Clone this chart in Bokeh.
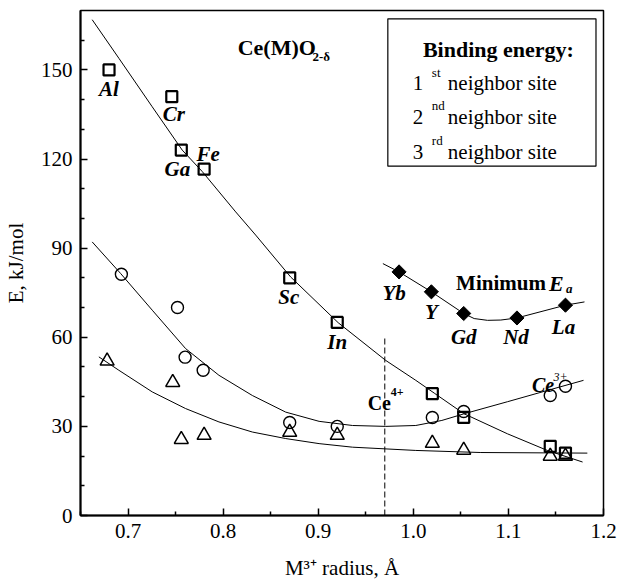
import math
from bokeh.plotting import figure
from bokeh.models import FixedTicker, Label, BoxAnnotation, Range1d, NumeralTickFormatter
from bokeh.embed import file_html
from bokeh.resources import INLINE

# ---------------- data ----------------
radius_1st = [0.68, 0.746, 0.756, 0.780, 0.870, 0.920, 1.020, 1.053, 1.144, 1.160]
energy_1st = [150, 141, 123, 116.6, 80, 65, 41, 33, 23.3, 21]
names_1st = ["Al", "Cr", "Ga", "Fe", "Sc", "In"]

radius_2nd = [0.693, 0.752, 0.760, 0.779, 0.870, 0.920, 1.020, 1.053, 1.144, 1.160]
energy_2nd = [81.2, 70, 53.3, 48.9, 31.3, 30, 33, 35, 40.4, 43.5]

radius_3rd = [0.678, 0.747, 0.756, 0.780, 0.870, 0.920, 1.020, 1.053, 1.144, 1.160]
energy_3rd = [52, 44.8, 25.6, 27, 28, 27, 24.3, 22, 20, 20]

radius_min = [0.985, 1.019, 1.053, 1.109, 1.160]
energy_min = [82.0, 75.3, 68.0, 66.5, 70.8]
names_min = ["Yb", "Y", "Gd", "Nd", "La"]

# trend curves
fit1_x = [0.6623, 0.6904, 0.7254, 0.757, 0.778, 0.8132, 0.8342, 0.871, 0.921, 0.971,
          1.0026, 1.022, 1.053, 1.099, 1.141, 1.178]
fit1_y = [166.9, 153.9, 137.6, 123.0, 115.8, 102.2, 94.4, 80.3, 64.9, 52.2,
          45.5, 41.2, 34.3, 27.5, 21.9, 18.0]
fit2_x = [0.6623, 0.6921, 0.7255, 0.7605, 0.7956, 0.8307, 0.8658, 0.9009, 0.936, 0.971,
          1.0026, 1.030, 1.053, 1.099, 1.141, 1.179]
fit2_y = [92.1, 81.5, 69.1, 56.2, 47.2, 40.4, 34.8, 31.7, 30.3, 30.0,
          30.3, 32.0, 34.2, 38.3, 42.1, 45.5]
fit3_x = [0.6693, 0.6903, 0.7255, 0.7605, 0.7956, 0.8307, 0.8658, 0.9009, 0.936, 1.0026,
          1.071, 1.183]
fit3_y = [53.4, 48.9, 41.6, 36.0, 31.5, 28.1, 25.9, 24.2, 23.0, 21.9,
          21.2, 21.0]
fit4_x = [0.968, 0.985, 1.019, 1.053, 1.064, 1.078, 1.092, 1.109, 1.160, 1.180]
fit4_y = [84.8, 82.0, 75.3, 68.0, 66.3, 65.7, 65.8, 66.5, 70.8, 71.9]

ce4_x = [0.97, 0.97]
ce4_y = [0, 60]

x_ticks = [0.7, 0.8, 0.9, 1.0, 1.1, 1.2]
x_minor = [0.65, 0.75, 0.85, 0.95, 1.05, 1.15]
y_ticks = [0, 30, 60, 90, 120, 150]
y_minor = [10, 20, 40, 50, 70, 80, 100, 110, 130, 140, 160]

x_title = "M³⁺ radius, Å"
y_title = "E, kJ/mol"

# ---------------- figure ----------------
X0, X1, Y0, Y1 = 0.65, 1.2, 0, 170
W, H = 618, 584
BL, BR, BT, BB = 80, 15, 10, 69
pxx = (W - BL - BR) / (X1 - X0)
pxy = (H - BT - BB) / (Y1 - Y0)

def dx(px):
    return px / pxx

def dy(px):
    return px / pxy

FONT = "Liberation Serif"

p = figure(width=W, height=H, x_range=Range1d(X0, X1), y_range=Range1d(Y0, Y1),
           output_backend="svg", toolbar_location=None,
           min_border_left=BL, min_border_right=BR, min_border_top=BT, min_border_bottom=BB)
p.xgrid.visible = False
p.ygrid.visible = False
p.outline_line_color = "black"
p.outline_line_width = 1.5
p.background_fill_color = "white"

for ax in (p.xaxis[0], p.yaxis[0]):
    ax.axis_line_width = 2
    ax.axis_line_color = "black"
    ax.major_tick_in = 7
    ax.major_tick_out = 0
    ax.minor_tick_in = 4
    ax.minor_tick_out = 0
    ax.major_tick_line_width = 1.5
    ax.minor_tick_line_width = 1.5
    ax.major_label_text_font = FONT
    ax.major_label_text_font_size = "21px"
    ax.major_label_text_color = "black"
    ax.major_label_standoff = 8
    ax.axis_label_text_font = FONT
    ax.axis_label_text_font_size = "21px"
    ax.axis_label_text_font_style = "normal"
    ax.axis_label_text_color = "black"

p.xaxis.ticker = FixedTicker(ticks=x_ticks, minor_ticks=x_minor)
p.yaxis.ticker = FixedTicker(ticks=y_ticks, minor_ticks=y_minor)
p.xaxis.formatter = NumeralTickFormatter(format="0.0")
p.xaxis.axis_label = x_title
p.yaxis.axis_label = y_title
p.xaxis.axis_label_standoff = 15
p.yaxis.axis_label_standoff = 10

# curves
for fx, fy in ((fit1_x, fit1_y), (fit2_x, fit2_y), (fit3_x, fit3_y), (fit4_x, fit4_y)):
    p.line(fx, fy, line_color="black", line_width=1)

p.line(ce4_x, ce4_y, line_color="black", line_width=1, line_dash="6 3")

# markers
p.scatter(radius_1st, energy_1st, marker="square", size=11, fill_alpha=0,
          line_color="black", line_width=2.2)
p.scatter(radius_2nd, energy_2nd, marker="circle", size=12, fill_alpha=0,
          line_color="black", line_width=1.4)
p.scatter(radius_3rd, energy_3rd, marker="triangle", size=14, fill_alpha=0,
          line_color="black", line_width=1.5)
p.scatter(radius_min, energy_min, marker="square", angle=math.pi / 4, size=10,
          fill_color="black", line_color="black")

def lab(x, y, text, size="21px", style="bold", align="left", baseline="alphabetic"):
    p.add_layout(Label(x=x, y=y, text=text, text_font=FONT, text_font_size=size,
                       text_font_style=style, text_align=align, text_baseline=baseline,
                       text_color="black"))

# element labels (pixel offsets right / down from marker)
off_1st = [(0, 19), (2, 17), (-4, 19), (4, -15), (-1, 19), (0, 20)]
for i, name in enumerate(names_1st):
    ox, oy = off_1st[i]
    lab(radius_1st[i] + dx(ox), energy_1st[i] - dy(oy), name,
        style="bold italic", align="center", baseline="middle")

off_min = [(-5, 21), (0, 20), (0, 23), (-1, 19), (-2, 22)]
for i, name in enumerate(names_min):
    ox, oy = off_min[i]
    lab(radius_min[i] + dx(ox), energy_min[i] - dy(oy), name,
        style="bold italic", align="center", baseline="middle")

# annotations
lab(0.8153, 157.4, "Ce(M)O", size="22px")
lab(0.894, 154.4, "2-δ", size="13px")
lab(1.045, 78.2, "Minimum", size="21px")
lab(1.1426, 78.2, "E", size="22px", style="bold italic")
lab(1.1605, 76.5, "a", size="13px", style="bold italic")
lab(0.952, 37.8, "Ce", size="20px")
lab(0.9763, 41.5, "4+", size="12px")
lab(1.1247, 43.8, "Ce", size="20px", style="bold italic")
lab(1.1474, 46.5, "3+", size="12px", style="italic")

# legend box
p.add_layout(BoxAnnotation(left=0.9732, right=1.1921, top=167.2, bottom=117.6,
                           fill_color="white", fill_alpha=1, line_color="black",
                           line_width=1.2, line_alpha=1))
lab(1.0895, 157.0, "Binding energy:", size="22px", align="center")
leg_marker_x = 0.992
leg_y = [147.6, 136.2, 124.4]
p.scatter([leg_marker_x], [leg_y[0]], marker="square", size=8, fill_alpha=0,
          line_color="black", line_width=2)
p.scatter([leg_marker_x], [leg_y[1]], marker="circle", size=9, fill_alpha=0,
          line_color="black", line_width=1.4)
p.scatter([leg_marker_x], [leg_y[2]], marker="triangle", size=10, fill_alpha=0,
          line_color="black", line_width=1.4)
leg_num = ["1", "2", "3"]
leg_sup = ["st", "nd", "rd"]
for i in range(3):
    base = leg_y[i] - dy(6)
    lab(0.9995, base, leg_num[i], style="normal")
    lab(1.0195, base + dy(11), leg_sup[i], size="13px", style="normal")
    lab(1.0363, base, "neighbor site", style="normal")

open("out.html", "w").write(file_html(p, INLINE))
